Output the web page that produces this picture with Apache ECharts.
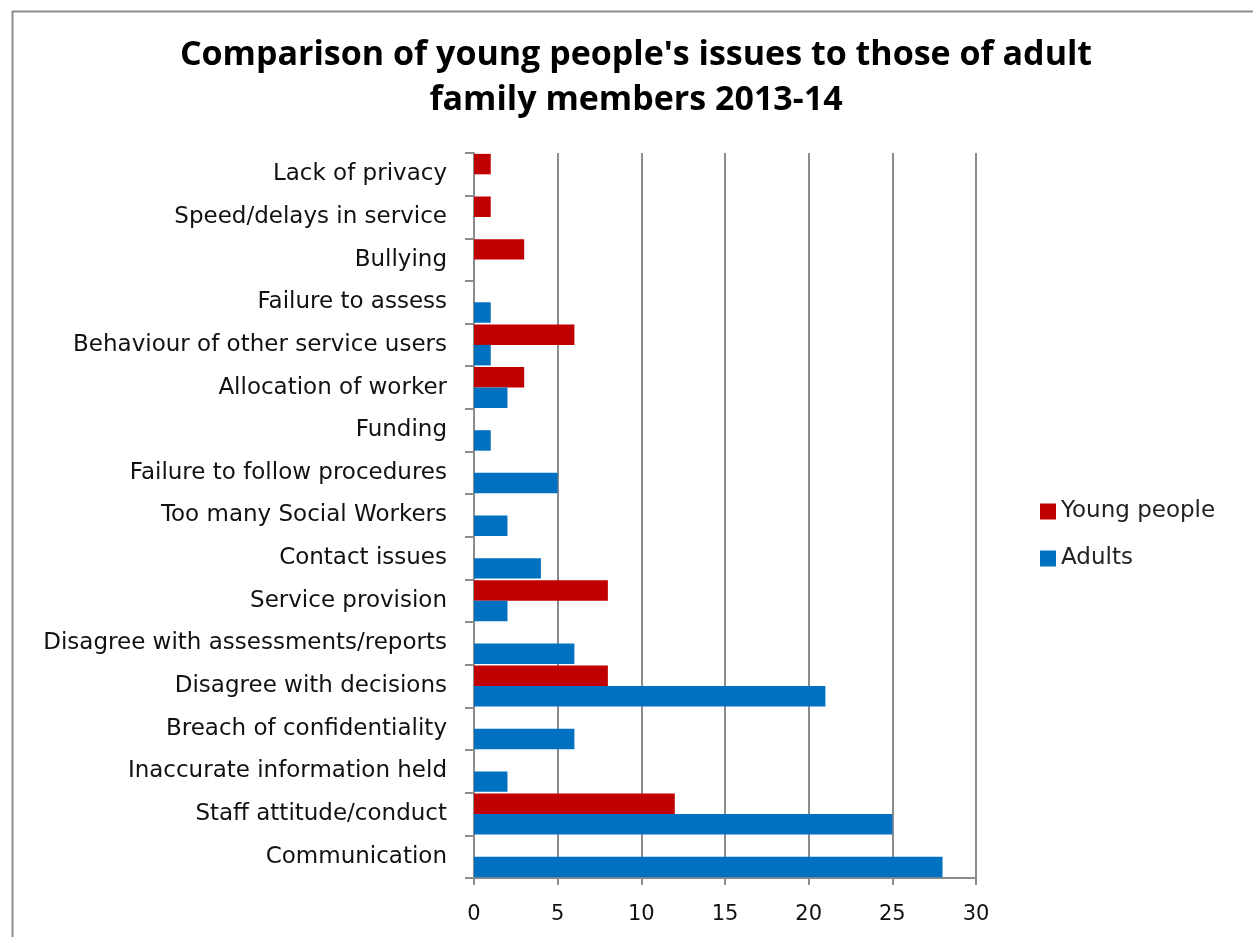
<!DOCTYPE html>
<html>
<head>
<meta charset="utf-8">
<script src="https://cdn.jsdelivr.net/npm/echarts@6/dist/echarts.min.js"></script>
<style>
  html, body { margin: 0; padding: 0; background: #fff; }
  #chart { width: 1253px; height: 937px; }
</style>
</head>
<body>
<div id="chart"></div>
<script>
// Complaint categories, listed from the bottom of the axis to the top
const categories = [
  'Communication',
  'Staff attitude/conduct',
  'Inaccurate information held',
  'Breach of confidentiality',
  'Disagree with decisions',
  'Disagree with assessments/reports',
  'Service provision',
  'Contact issues',
  'Too many Social Workers',
  'Failure to follow procedures',
  'Funding',
  'Allocation of worker',
  'Behaviour of other service users',
  'Failure to assess',
  'Bullying',
  'Speed/delays in service',
  'Lack of privacy'
];

// Number of issues raised (null = none recorded)
const youngPeople = [null, 12, null, null, 8, null, 8, null, null, null, null, 3, 6, null, 3, 1, 1];
const adults      = [28, 25, 2, 6, 21, 6, 2, 4, 2, 5, 1, 2, 1, 1, null, null, null];

const xTicks = { min: 0, max: 30, interval: 5 };

const gray = '#8c8c8c';
const labelFont = 'DejaVu Sans';

const chart = echarts.init(document.getElementById('chart'));
chart.setOption({
  backgroundColor: '#fff',
  animation: false,
  title: {
    text: "Comparison of young people's issues to those of adult\nfamily members 2013-14",
    left: 631,
    top: 28,
    textAlign: 'center',
    textStyle: {
      fontFamily: 'Open Sans',
      fontWeight: 'bold',
      fontSize: 34,
      lineHeight: 45,
      color: '#000'
    }
  },
  legend: {
    orient: 'vertical',
    left: 1035,
    top: 495,
    itemWidth: 16,
    itemHeight: 16,
    itemGap: 24,
    icon: 'rect',
    data: ['Young people', 'Adults'],
    textStyle: { fontFamily: labelFont, fontSize: 23, color: '#222', padding: [0, 0, 0, 0] }
  },
  grid: { left: 474, right: 277, top: 153, bottom: 59, containLabel: false },
  xAxis: {
    type: 'value',
    min: xTicks.min,
    max: xTicks.max,
    interval: xTicks.interval,
    axisLine: { show: true, lineStyle: { color: gray, width: 2 } },
    axisTick: { show: true, length: 7, lineStyle: { color: gray, width: 2 } },
    splitLine: { show: true, lineStyle: { color: gray, width: 2 } },
    axisLabel: { fontFamily: labelFont, fontSize: 21, color: '#111', margin: 26 }
  },
  yAxis: {
    type: 'category',
    data: categories,
    axisLine: { show: true, lineStyle: { color: gray, width: 2 } },
    axisTick: { show: true, length: 9, interval: 0, lineStyle: { color: gray, width: 2 } },
    axisLabel: {
      fontFamily: labelFont, fontSize: 23, color: '#111', margin: 27, interval: 0,
      padding: [4, 0, 0, 0]
    }
  },
  series: [
    {
      name: 'Young people',
      type: 'bar',
      data: youngPeople,
      itemStyle: { color: '#C00000' },
      barGap: '0%',
      barCategoryGap: '4%'
    },
    {
      name: 'Adults',
      type: 'bar',
      data: adults,
      itemStyle: { color: '#0070C0' },
      barGap: '0%',
      barCategoryGap: '4%'
    }
  ],
  graphic: [
    {
      type: 'rect',
      left: 10,
      top: 9,
      shape: { width: 1270, height: 960 },
      style: { fill: 'none', stroke: gray, lineWidth: 2 },
      silent: true
    }
  ]
});
</script>
</body>
</html>
